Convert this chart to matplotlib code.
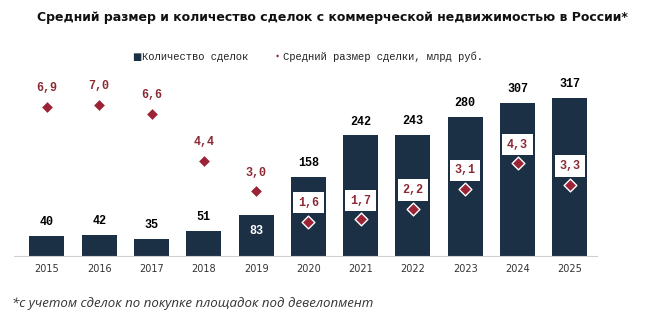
import matplotlib.pyplot as plt
import numpy as np

# данные
years = ["2015", "2016", "2017", "2018", "2019", "2020", "2021", "2022", "2023", "2024", "2025"]
deals = [40, 42, 35, 51, 83, 158, 242, 243, 280, 307, 317]
avg_size = [6.9, 7.0, 6.6, 4.4, 3.0, 1.6, 1.7, 2.2, 3.1, 4.3, 3.3]

bar_color = '#1b2f45'
dot_color = '#9b2335'
mono = 'Liberation Mono'

fig = plt.figure(figsize=(6.61, 3.29), dpi=100)
ax = fig.add_axes([14/661, 1 - 256/329, (597 - 14)/661, 196/329])
ax2 = ax.twinx()

x = np.arange(len(years))
bars = ax.bar(x, deals, width=0.67, color=bar_color, zorder=2)
ax.set_xlim(-0.63, len(years) - 1 + 0.52)
ax.set_ylim(0, 196/0.498)
ax2.set_ylim(0, 196/21.56)

ax2.scatter(x, avg_size, marker='D', s=42, color=dot_color, edgecolors='white',
            linewidths=1.0, zorder=5)

# подписи столбцов
for i, v in enumerate(deals):
    if v == 83:
        ax.annotate(str(v), (i, v), xytext=(0, -12), textcoords='offset points',
                    ha='center', va='center', fontsize=8.5, fontweight='bold',
                    color='white', family=mono, zorder=6)
    else:
        ax.annotate(str(v), (i, v), xytext=(0, 10), textcoords='offset points',
                    ha='center', va='center', fontsize=8.5, fontweight='bold',
                    color='black', family=mono)

# подписи среднего размера
for i, v in enumerate(avg_size):
    ax2.annotate(f"{v:.1f}".replace('.', ','), (i, v), xytext=(0, 13.5),
                 textcoords='offset points', ha='center', va='center',
                 fontsize=8.5, fontweight='bold', color='#8b2a35', family=mono,
                 bbox=dict(boxstyle='square,pad=0.4', fc='white', ec='none'),
                 zorder=7)

for a in (ax, ax2):
    for s in a.spines.values():
        s.set_visible(False)
    a.set_yticks([])
ax.spines['bottom'].set_visible(True)
ax.spines['bottom'].set_color('#d0d0d0')
ax.set_xticks(x)
ax.set_xticklabels(years, fontsize=7, color='#333333')
ax.tick_params(axis='x', length=0, pad=6)
ax2.set_zorder(ax.get_zorder() + 1)

fig.text(0.503, 1 - 18/329, "Средний размер и количество сделок с коммерческой недвижимостью в России*",
         ha='center', va='center', fontsize=9.0, fontweight='bold', color='#111111',
         family='DejaVu Sans')

# легенда
fig.text(137/661, 1 - 57/329, "■", ha='center', va='center', fontsize=7, color=bar_color)
fig.text(142/661, 1 - 57/329, "Количество сделок", ha='left', va='center',
         fontsize=7.6, color='#222222', family=mono)
fig.text(278/661, 1 - 57/329, "◆", ha='center', va='center', fontsize=3, color=dot_color)
fig.text(283/661, 1 - 57/329, "Средний размер сделки, млрд руб.", ha='left', va='center',
         fontsize=7.6, color='#222222', family=mono)

fig.text(12/661, 1 - 303/329, "*с учетом сделок по покупке площадок под девелопмент",
         ha='left', va='center', fontsize=9.5, style='italic', color='#333333',
         family='Open Sans')

fig.savefig("out.png", dpi=100, facecolor='white')
